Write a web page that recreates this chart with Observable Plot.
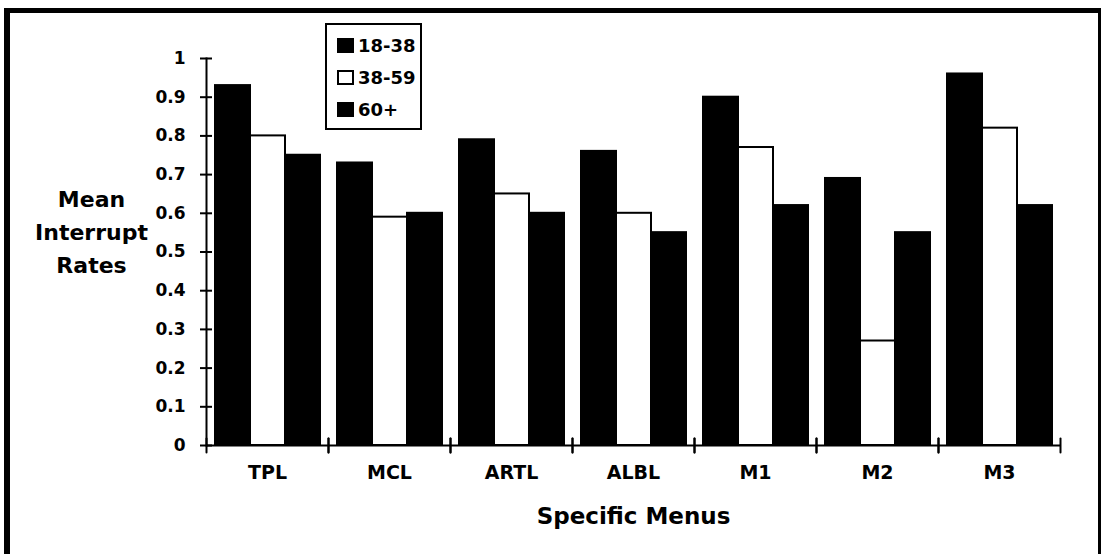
<!DOCTYPE html>
<html>
<head>
<meta charset="utf-8">
<script src="https://cdn.jsdelivr.net/npm/d3@7"></script>
<script src="https://cdn.jsdelivr.net/npm/@observablehq/plot@0.6"></script>
<style>
  html, body { margin: 0; padding: 0; background: #fff; overflow: hidden; }
  #wrap { position: relative; width: 1102px; height: 554px; font-family: "DejaVu Sans", sans-serif; font-weight: bold; color: #000; }
  #border { position: absolute; left: 4px; top: 8px; width: 1097px; height: 600px; box-sizing: border-box;
            border-top: 5px solid #000; border-left: 6px solid #000; border-right: 3px solid #000; pointer-events: none; }
  #chart { position: absolute; left: 0; top: 0; }
  #legend { position: absolute; left: 325px; top: 23px; width: 97px; height: 107px; box-sizing: border-box;
            border: 2px solid #000; padding: 4px 0 0 10px; background: #fff; }
  .row { display: flex; align-items: center; height: 32px; font-size: 18px; }
  .sw { width: 17px; height: 15px; box-sizing: border-box; border: 2px solid #000; margin-right: 4px; }
</style>
</head>
<body>
<div id="wrap">
  <div id="border"></div>
  <div id="chart"></div>
  <div id="legend"></div>
</div>
<script>
// Menus along the x axis and the three age groups
const menus = ["TPL", "MCL", "ARTL", "ALBL", "M1", "M2", "M3"];
const groups = ["18-38", "38-59", "60+"];

// Mean interrupt rate per menu for each age group
const age18to38 = [0.93, 0.73, 0.79, 0.76, 0.90, 0.69, 0.96];
const age38to59 = [0.80, 0.59, 0.65, 0.60, 0.77, 0.27, 0.82];
const age60plus = [0.75, 0.60, 0.60, 0.55, 0.62, 0.55, 0.62];

const groupFills = ["#000", "#fff", "#000"];
const yTicks = [0, 0.1, 0.2, 0.3, 0.4, 0.5, 0.6, 0.7, 0.8, 0.9, 1];
const yTitle = "Mean\nInterrupt\nRates";
const xTitle = "Specific Menus";

const series = [age18to38, age38to59, age60plus];
const data = menus.flatMap((menu, i) =>
  groups.map((group, j) => ({menu, group, value: series[j][i]}))
);

// short vertical stroke used for the category boundary ticks
const tickShape = {
  draw(context, l) { context.moveTo(0, 0); context.lineTo(0, -l); }
};

const chart = Plot.plot({
  width: 1102,
  height: 554,
  marginLeft: 203,
  marginRight: 40,
  marginTop: 58,
  marginBottom: 109,
  style: {fontFamily: "DejaVu Sans, sans-serif", fontWeight: "bold", background: "transparent", color: "#000", overflow: "visible"},
  fx: {domain: menus, padding: 0},
  x: {domain: groups, paddingInner: 0, paddingOuter: 0.2, axis: null},
  y: {domain: [0, 1]},
  color: {domain: groups, range: groupFills},
  marks: [
    Plot.barY(data, {fx: "menu", x: "group", y: "value", fill: "group", stroke: "#000", strokeWidth: 2}),
    Plot.ruleY([0], {stroke: "#000", strokeWidth: 2}),
    Plot.frame({anchor: "left", facetAnchor: "left", stroke: "#000", strokeWidth: 2}),
    Plot.vectorY([0], {frameAnchor: "left", length: 14, anchor: "middle", rotate: 0, stroke: "#000", strokeWidth: 2, shape: tickShape}),
    Plot.vectorY([0], {frameAnchor: "right", length: 14, anchor: "middle", rotate: 0, stroke: "#000", strokeWidth: 2, shape: tickShape}),
    Plot.axisY({ticks: yTicks, tickFormat: (d) => String(d), tickSize: 12, dx: 6, tickPadding: 15,
                fontSize: 17, strokeWidth: 2, label: null}),
    Plot.axisFx({anchor: "bottom", tickSize: 0, tickPadding: 20, fontSize: 19, label: null}),
    Plot.axisFx({anchor: "bottom", ticks: [], tickSize: 0, fontSize: 23, label: xTitle, labelAnchor: "center", labelOffset: 78}),
    Plot.text([yTitle], {frameAnchor: "left", facetAnchor: "left", dx: -115, dy: -23, fontSize: 22, lineHeight: 1.5, textAnchor: "middle"})
  ]
});
document.getElementById("chart").append(chart);

// legend box with one swatch per age group
const legend = d3.select("#legend");
groups.forEach((g, j) => {
  const row = legend.append("div").attr("class", "row");
  row.append("div").attr("class", "sw").style("background", groupFills[j]);
  row.append("span").text(g);
});
</script>
</body>
</html>
